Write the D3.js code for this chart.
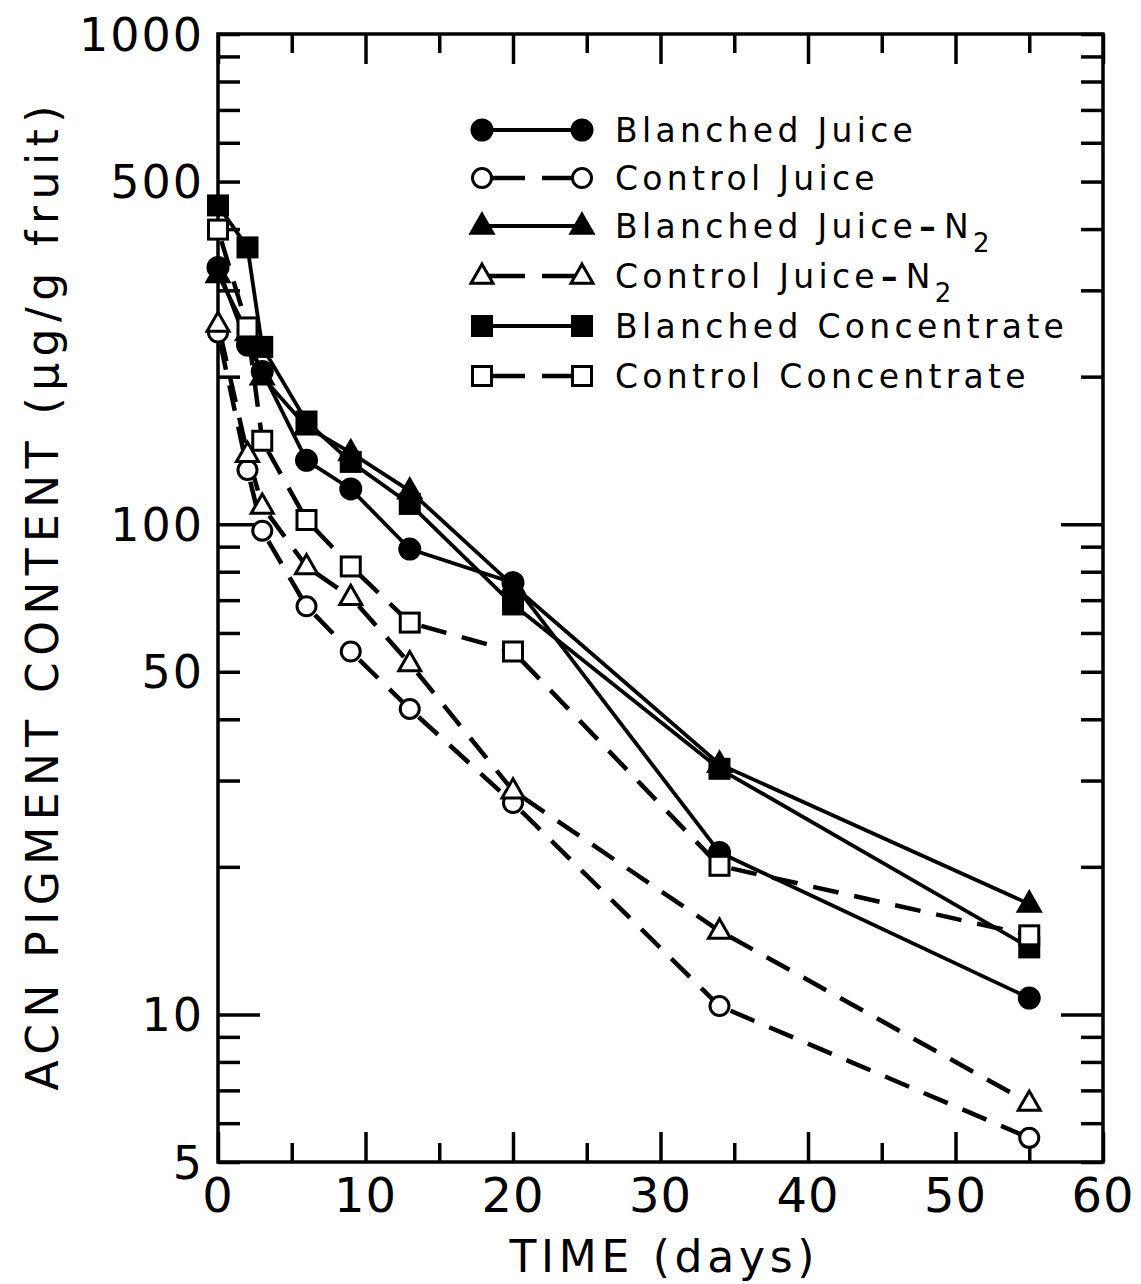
<!DOCTYPE html>
<html><head><meta charset="utf-8">
<script src="https://cdn.jsdelivr.net/npm/d3@7"></script>
<style>body{margin:0;background:#fff}svg{display:block}</style>
</head><body>
<script>
const days = [0, 2, 3, 6, 9, 13, 20, 34, 55];
const blanchedJuice     = [334, 232, 205, 135, 118, 89, 76, 21.4, 10.8];
const controlJuice      = [246, 129, 97, 68, 55, 42, 27, 10.4, 5.6];
const blanchedJuiceN2   = [323, 246, 200, 158, 140, 117, 75, 32.4, 16.8];
const controlJuiceN2    = [256, 139, 109, 82, 71, 52, 28.6, 14.8, 6.6];
const blanchedConc      = [447, 367, 230, 162, 134, 110, 68.6, 31.7, 13.7];
const controlConc       = [399, 252, 148, 102, 82, 63, 55, 20.1, 14.5];
const seriesNames = ["Blanched Juice", "Control Juice", "Blanched Juice - N2", "Control Juice - N2", "Blanched Concentrate", "Control Concentrate"];
const yTickLabels = [1000, 500, 100, 50, 10, 5];
const xTickLabels = [0, 10, 20, 30, 40, 50, 60];

const W = 1141, H = 1284;
const svg = d3.select("body").append("svg").attr("width", W).attr("height", H);
const x = d3.scaleLinear().domain([0, 60]).range([218, 1103]);
const y = d3.scaleLog().domain([5, 1000]).range([1162, 34]);
const font = "'DejaVu Sans', sans-serif";

const series = [
  {name: seriesNames[0], vals: blanchedJuice, shape: "circle", fill: true, dash: false},
  {name: seriesNames[1], vals: controlJuice, shape: "circle", fill: false, dash: true},
  {name: seriesNames[2], vals: blanchedJuiceN2, shape: "triangle", fill: true, dash: false},
  {name: seriesNames[3], vals: controlJuiceN2, shape: "triangle", fill: false, dash: true},
  {name: seriesNames[4], vals: blanchedConc, shape: "square", fill: true, dash: false},
  {name: seriesNames[5], vals: controlConc, shape: "square", fill: false, dash: true}
];

// axes (ticks inward)
const [x0, x1] = x.range(); const [yb, yt] = y.range();
const logTicks = [];
for (const dec of [1, 10, 100]) for (let m = 1; m <= 9; m++) { const v = m * dec; if (v >= 5 && v <= 1000) logTicks.push(v); }
logTicks.push(1000);
const isMajorY = v => v === 10 || v === 100;
const gL = svg.append("g").attr("transform", `translate(${x0},0)`).call(d3.axisLeft(y).tickValues(logTicks).tickFormat("").tickSizeOuter(0));
gL.selectAll(".tick line").attr("x2", d => isMajorY(d) ? 42 : 22);
const gR = svg.append("g").attr("transform", `translate(${x1},0)`).call(d3.axisRight(y).tickValues(logTicks).tickFormat("").tickSizeOuter(0));
gR.selectAll(".tick line").attr("x2", d => isMajorY(d) ? -42 : -22);
const xTicks = d3.range(0, 61, 5);
const gB = svg.append("g").attr("transform", `translate(0,${yb})`).call(d3.axisBottom(x).tickValues(xTicks).tickFormat("").tickSizeOuter(0));
gB.selectAll(".tick line").attr("y2", d => d % 10 === 0 ? -30 : -19);
const gT = svg.append("g").attr("transform", `translate(0,${yt})`).call(d3.axisTop(x).tickValues(xTicks).tickFormat("").tickSizeOuter(0));
gT.selectAll(".tick line").attr("y2", d => d % 10 === 0 ? 30 : 19);
svg.selectAll(".domain").remove();
svg.selectAll(".tick line").attr("stroke", "#000").attr("stroke-width", 3.5);
svg.append("rect").attr("x", x0).attr("y", yt).attr("width", x1 - x0).attr("height", yb - yt)
  .attr("fill", "none").attr("stroke", "#000").attr("stroke-width", 3.5);

// tick labels
svg.append("g").selectAll("text").data(yTickLabels).join("text")
  .attr("x", 204).attr("y", d => y(d)).attr("dy", "0.36em").attr("text-anchor", "end")
  .attr("font-family", font).attr("font-size", 46).attr("letter-spacing", 2).text(d => d);
svg.append("g").selectAll("text").data(xTickLabels).join("text")
  .attr("x", d => x(d)).attr("y", 1212).attr("text-anchor", "middle")
  .attr("font-family", font).attr("font-size", 48).attr("letter-spacing", 1).text(d => d);

// axis titles
svg.append("text").attr("transform", `translate(58,598) rotate(-90)`).attr("text-anchor", "middle")
  .attr("font-family", font).attr("font-size", 44).attr("textLength", 985).attr("lengthAdjust", "spacing")
  .text("ACN PIGMENT CONTENT (μg/g fruit)");
svg.append("text").attr("x", 662).attr("y", 1272).attr("text-anchor", "middle")
  .attr("font-family", font).attr("font-size", 44).attr("textLength", 305).attr("lengthAdjust", "spacing")
  .text("TIME (days)");

function marker(g, shape, fill, cx, cy) {
  const sw = 3;
  if (shape === "circle") {
    g.append("circle").attr("cx", cx).attr("cy", cy).attr("r", fill ? 10 : 9.5)
      .attr("fill", fill ? "#000" : "#fff").attr("stroke", "#000").attr("stroke-width", sw);
  } else if (shape === "square") {
    const s = 19;
    g.append("rect").attr("x", cx - s / 2).attr("y", cy - s / 2).attr("width", s).attr("height", s)
      .attr("fill", fill ? "#000" : "#fff").attr("stroke", "#000").attr("stroke-width", sw);
  } else {
    const s = 22, h = s * 0.87;
    g.append("path").attr("d", `M${cx},${cy - h * 0.62}L${cx + s / 2},${cy + h * 0.38}L${cx - s / 2},${cy + h * 0.38}Z`)
      .attr("fill", fill ? "#000" : "#fff").attr("stroke", "#000").attr("stroke-width", sw).attr("stroke-linejoin", "miter");
  }
}

// lines
const gLines = svg.append("g");
series.forEach(s => {
  const pts = days.map((d, i) => [x(d), y(s.vals[i])]);
  for (let i = 0; i < pts.length - 1; i++) {
    gLines.append("line").attr("x1", pts[i][0]).attr("y1", pts[i][1]).attr("x2", pts[i + 1][0]).attr("y2", pts[i + 1][1])
      .attr("stroke", "#000").attr("stroke-width", s.dash ? 4.5 : 3.8)
      .attr("stroke-dasharray", s.dash ? "26,16" : null).attr("stroke-dashoffset", s.dash ? -12 : null);
  }
});
const gMarks = svg.append("g");
series.forEach(s => { days.forEach((d, i) => marker(gMarks, s.shape, s.fill, x(d), y(s.vals[i]))); });

// legend
const legY = [130, 178, 226, 276, 326, 376];
const lg = svg.append("g");
series.forEach((s, i) => {
  const yy = legY[i];
  if (s.dash) {
    lg.append("line").attr("x1", 482).attr("y1", yy).attr("x2", 525).attr("y2", yy).attr("stroke", "#000").attr("stroke-width", 4.5);
    lg.append("line").attr("x1", 542).attr("y1", yy).attr("x2", 582).attr("y2", yy).attr("stroke", "#000").attr("stroke-width", 4.5);
  } else {
    lg.append("line").attr("x1", 482).attr("y1", yy).attr("x2", 582).attr("y2", yy).attr("stroke", "#000").attr("stroke-width", 3.8);
  }
  marker(lg, s.shape, s.fill, 482, yy);
  marker(lg, s.shape, s.fill, 582, yy);
  const t = lg.append("text").attr("x", 615).attr("y", yy).attr("dy", "0.36em")
    .attr("font-family", font).attr("font-size", 33).attr("letter-spacing", 4.3);
  if (s.name.endsWith("N2")) {
    const base = s.name.split(" - ")[0];
    t.append("tspan").text(base);
    t.append("tspan").attr("dx", 2).attr("font-weight", "bold").text("–");
    t.append("tspan").attr("dx", 4).text("N");
    t.append("tspan").attr("dy", 14).attr("font-size", 26).text("2");
  } else {
    t.text(s.name);
  }
});
</script>
</body></html>
